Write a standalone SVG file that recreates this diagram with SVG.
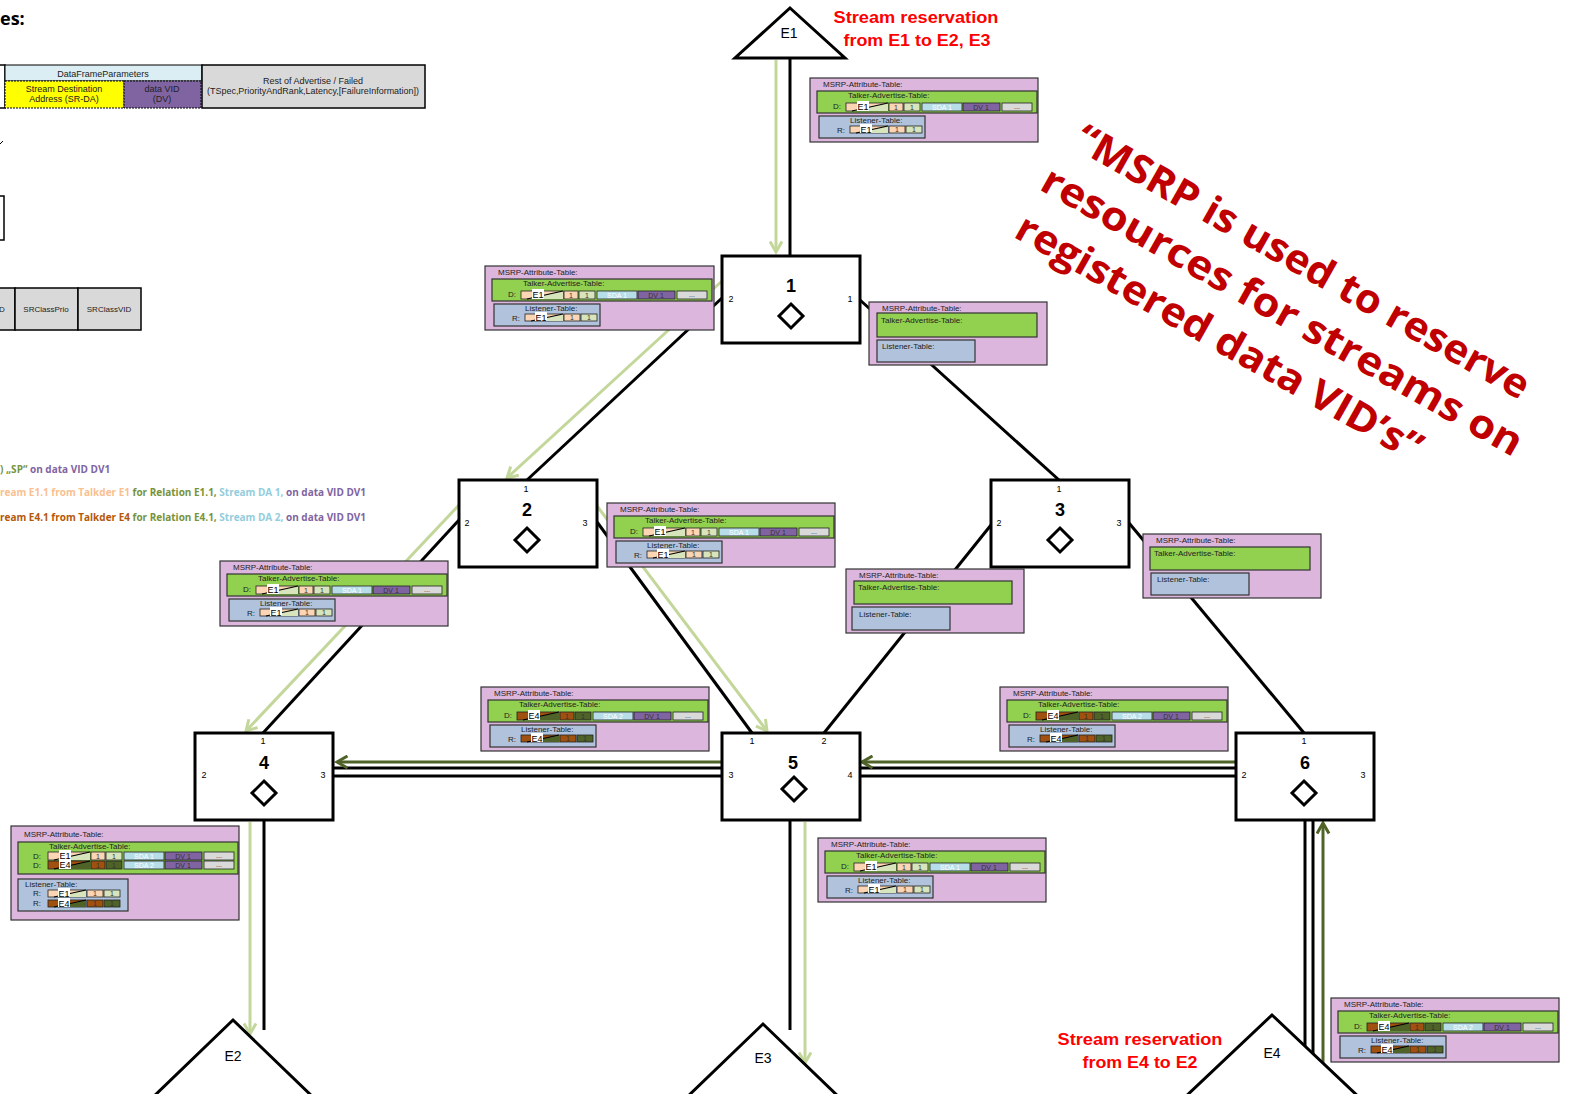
<svg xmlns="http://www.w3.org/2000/svg" xmlns:xlink="http://www.w3.org/1999/xlink" width="1573" height="1094" viewBox="0 0 1573 1094">
  <style>
    .node { fill: #ffffff; stroke: #000000; stroke-width: 3; }
    .dia { fill: #ffffff; stroke: #000000; stroke-width: 3; }
    .nlab { font-family: "Liberation Sans", Arial, sans-serif; font-weight: bold; font-size: 18px; fill: #000; text-anchor: middle; }
    .port { font-family: "Liberation Sans", Arial, sans-serif; font-size: 9px; fill: #000; text-anchor: middle; }
    .end { fill: #ffffff; stroke: #000000; stroke-width: 3; }
    .elab { font-family: "Liberation Sans", Arial, sans-serif; font-size: 14px; fill: #000; text-anchor: middle; }
    .wire { fill: none; stroke: #000000; stroke-width: 3; }
    .pale { fill: none; stroke: #c4d79b; stroke-width: 3; }
    .dark { fill: none; stroke: #4f6228; stroke-width: 3; }
    .tbl { fill: #dcb6dc; stroke: #333333; stroke-width: 1.2; }
    .talk { fill: #92d050; stroke: #333333; stroke-width: 1.2; }
    .lst { fill: #b1c3dc; stroke: #333333; stroke-width: 1.2; }
    .t8 { font-family: "Liberation Sans", Arial, sans-serif; font-size: 8px; fill: #222; }
    .c7 { font-family: "Liberation Sans", Arial, sans-serif; font-size: 7px; fill: #333; text-anchor: middle; }
    .cell { stroke: #222; stroke-width: 0.8; }
    .red { font-family: "Liberation Sans", Arial, sans-serif; font-weight: bold; font-size: 16.5px; fill: #ff0000; text-anchor: middle; }
    .big { font-family: "Open Sans", "Liberation Sans", sans-serif; font-weight: bold; font-size: 40px; fill: #c00000; }
    .leg { font-family: "Open Sans", "Liberation Sans", sans-serif; font-weight: bold; font-size: 10px; }
    .hdr { font-family: "Liberation Sans", Arial, sans-serif; font-size: 9px; fill: #222; text-anchor: middle; }
  </style>
  <defs>
    <marker id="mPale" viewBox="0 0 10 10" refX="8" refY="5" markerWidth="5" markerHeight="5" orient="auto" markerUnits="strokeWidth">
      <path d="M1,1 L8,5 L1,9" fill="none" stroke="#c4d79b" stroke-width="2"/>
    </marker>
    <marker id="mDark" viewBox="0 0 10 10" refX="8" refY="5" markerWidth="5" markerHeight="5" orient="auto" markerUnits="strokeWidth">
      <path d="M1,1 L8,5 L1,9" fill="none" stroke="#4f6228" stroke-width="2"/>
    </marker>
    <!-- talker advertise rows -->
    <symbol id="tE1" overflow="visible">
      <rect class="cell" x="0" y="0" width="42" height="8" fill="#fcd5b4"/>
      <polygon points="6,8 42,0 42,8" fill="#d7e4bc"/>
      <line x1="6" y1="8" x2="42" y2="0" stroke="#000" stroke-width="1.2"/>
      <rect x="11" y="-2" width="12" height="10" fill="#ffffff"/>
      <text x="17" y="7" class="c7" style="font-size:9px;fill:#000">E1</text>
      <rect class="cell" x="43" y="0" width="14" height="8" fill="#fcd5b4"/>
      <text x="50" y="7" class="c7">1</text>
      <rect class="cell" x="58" y="0" width="16" height="8" fill="#d7e4bc"/>
      <text x="66" y="7" class="c7">1</text>
      <rect class="cell" x="76" y="0" width="40" height="8" fill="#b7dee8"/>
      <text x="96" y="7" class="c7" style="fill:#fff">SDA 1</text>
      <rect class="cell" x="117" y="0" width="37" height="8" fill="#8064a2"/>
      <text x="135" y="7" class="c7">DV 1</text>
      <rect class="cell" x="156" y="0" width="30" height="8" fill="#d9d9d9"/>
      <text x="171" y="6" class="c7">...</text>
    </symbol>
    <symbol id="tE4" overflow="visible">
      <rect class="cell" x="0" y="0" width="42" height="8" fill="#a0500f"/>
      <polygon points="6,8 42,0 42,8" fill="#4f6228"/>
      <line x1="6" y1="8" x2="42" y2="0" stroke="#000" stroke-width="1.2"/>
      <rect x="11" y="-2" width="12" height="10" fill="#ffffff"/>
      <text x="17" y="7" class="c7" style="font-size:9px;fill:#000">E4</text>
      <rect class="cell" x="43" y="0" width="14" height="8" fill="#a0500f"/>
      <text x="50" y="7" class="c7">1</text>
      <rect class="cell" x="58" y="0" width="16" height="8" fill="#4f6228"/>
      <text x="66" y="7" class="c7">1</text>
      <rect class="cell" x="76" y="0" width="40" height="8" fill="#b7dee8"/>
      <text x="96" y="7" class="c7" style="fill:#fff">SDA 2</text>
      <rect class="cell" x="117" y="0" width="37" height="8" fill="#8064a2"/>
      <text x="135" y="7" class="c7">DV 1</text>
      <rect class="cell" x="156" y="0" width="30" height="8" fill="#d9d9d9"/>
      <text x="171" y="6" class="c7">...</text>
    </symbol>
    <!-- listener rows -->
    <symbol id="lE1" overflow="visible">
      <rect class="cell" x="0" y="0" width="38" height="7" fill="#fcd5b4"/>
      <polygon points="6,7 38,0 38,7" fill="#d7e4bc"/>
      <line x1="6" y1="7" x2="38" y2="0" stroke="#000" stroke-width="1.2"/>
      <rect x="10" y="-2" width="12" height="9" fill="#ffffff"/>
      <text x="16" y="6.5" class="c7" style="font-size:9px;fill:#000">E1</text>
      <rect class="cell" x="39" y="0" width="16" height="7" fill="#fcd5b4"/>
      <text x="47" y="6" class="c7">1</text>
      <rect class="cell" x="56" y="0" width="16" height="7" fill="#d7e4bc"/>
      <text x="64" y="6" class="c7">1</text>
    </symbol>
    <symbol id="lE4" overflow="visible">
      <rect class="cell" x="0" y="0" width="38" height="7" fill="#a0500f"/>
      <polygon points="6,7 38,0 38,7" fill="#4f6228"/>
      <line x1="6" y1="7" x2="38" y2="0" stroke="#000" stroke-width="1.2"/>
      <rect x="10" y="-2" width="12" height="9" fill="#ffffff"/>
      <text x="16" y="6.5" class="c7" style="font-size:9px;fill:#000">E4</text>
      <rect class="cell" x="39" y="0" width="16" height="7" fill="#a0500f"/>
      <text x="47" y="6" class="c7">1</text>
      <rect class="cell" x="56" y="0" width="16" height="7" fill="#4f6228"/>
      <text x="64" y="6" class="c7">1</text>
    </symbol>
  </defs>

  <rect x="0" y="0" width="1573" height="1094" fill="#ffffff"/>

  <!-- attribute format panel, top left -->
  <g id="format-panel">
    <text x="0" y="25" style="font-family:'Open Sans','Liberation Sans',sans-serif;font-weight:bold;font-size:18px;fill:#000">es:</text>
    <rect x="-10" y="65" width="15" height="43" fill="#fff" stroke="#000" stroke-width="1.5"/>
    <rect x="5" y="65" width="197" height="16" fill="#daeef3" stroke="#000" stroke-width="1"/>
    <text x="103" y="77" class="hdr">DataFrameParameters</text>
    <rect x="5" y="81" width="119" height="27" fill="#ffff00" stroke="#000" stroke-width="1" stroke-dasharray="2,1"/>
    <text x="64" y="92" class="hdr">Stream Destination</text>
    <text x="64" y="102" class="hdr">Address (SR-DA)</text>
    <rect x="124" y="81" width="77" height="27" fill="#8064a2" stroke="#000" stroke-width="1" stroke-dasharray="2,1"/>
    <text x="162" y="92" class="hdr">data VID</text>
    <text x="162" y="102" class="hdr">(DV)</text>
    <rect x="202" y="65" width="223" height="43" fill="#d9d9d9" stroke="#000" stroke-width="1.5"/>
    <text x="313" y="84" class="hdr">Rest of Advertise / Failed</text>
    <text x="313" y="94" class="hdr" textLength="212" lengthAdjust="spacingAndGlyphs">(TSpec,PriorityAndRank,Latency,[FailureInformation])</text>
    <path d="M0,144 L3,141" fill="none" stroke="#000" stroke-width="1"/>
    <rect x="-10" y="196" width="14" height="44" fill="#fff" stroke="#000" stroke-width="1.5"/>
    <rect x="-10" y="288" width="25" height="42" fill="#d9d9d9" stroke="#000" stroke-width="1.5"/>
    <text x="2" y="312" class="hdr" style="font-size:8px">D</text>
    <rect x="15" y="288" width="63" height="42" fill="#d9d9d9" stroke="#000" stroke-width="1.5"/>
    <text x="46" y="312" class="hdr" style="font-size:8px">SRClassPrio</text>
    <rect x="78" y="288" width="63" height="42" fill="#d9d9d9" stroke="#000" stroke-width="1.5"/>
    <text x="109" y="312" class="hdr" style="font-size:8px">SRClassVID</text>
  </g>

  <!-- colour legend -->
  <g id="legend">
    <text x="0" y="473" class="leg"><tspan fill="#77933c">) „SP“</tspan><tspan fill="#8064a2"> on data VID DV1</tspan></text>
    <text x="0" y="496" class="leg" textLength="366" lengthAdjust="spacingAndGlyphs"><tspan fill="#fac090">ream E1.1 from Talkder E1</tspan><tspan fill="#77933c"> for Relation E1.1,</tspan><tspan fill="#93cddd"> Stream DA 1,</tspan><tspan fill="#8064a2"> on data VID DV1</tspan></text>
    <text x="0" y="521" class="leg" textLength="366" lengthAdjust="spacingAndGlyphs"><tspan fill="#b65708">ream E4.1 from Talkder E4</tspan><tspan fill="#77933c"> for Relation E4.1,</tspan><tspan fill="#93cddd"> Stream DA 2,</tspan><tspan fill="#8064a2"> on data VID DV1</tspan></text>
  </g>

  <!-- links between bridges and end stations -->
  <g id="connectors">
    <path class="wire" d="M790,58 V256"/>
    <path class="pale" d="M776,60 V252" marker-end="url(#mPale)"/>
    <path class="wire" d="M722,298 L527,480"/>
    <path class="pale" d="M722,281 L507,478" marker-end="url(#mPale)"/>
    <path class="wire" d="M860,300 L1059,480"/>
    <path class="wire" d="M459,520 L263,733"/>
    <path class="pale" d="M459,505 L246,731" marker-end="url(#mPale)"/>
    <path class="wire" d="M597,522 L752,733"/>
    <path class="pale" d="M597,506 L767,731" marker-end="url(#mPale)"/>
    <path class="wire" d="M991,525 L824,733"/>
    <path class="wire" d="M1129,523 L1304,733"/>
    <path class="wire" d="M333,768 H722"/>
    <path class="wire" d="M333,776 H722"/>
    <path class="dark" d="M722,762 H337" marker-end="url(#mDark)"/>
    <path class="wire" d="M860,768 H1236"/>
    <path class="wire" d="M860,776 H1236"/>
    <path class="dark" d="M1236,762 H862" marker-end="url(#mDark)"/>
    <path class="wire" d="M264,820 V1030"/>
    <path class="pale" d="M250,822 V1034" marker-end="url(#mPale)"/>
    <path class="wire" d="M790,820 V1030"/>
    <path class="pale" d="M805,822 V1063" marker-end="url(#mPale)"/>
    <path class="wire" d="M1305,820 V1050"/>
    <path class="wire" d="M1313,820 V1060"/>
    <path class="dark" d="M1323,1070 V823" marker-end="url(#mDark)"/>
  </g>

  <!-- end stations -->
  <g id="E1"><polygon class="end" points="790,8 845,58 735,58"/><text x="789" y="38" class="elab">E1</text></g>
  <g id="E2"><polygon class="end" points="233,1020 316,1100 150,1100"/><text x="233" y="1061" class="elab">E2</text></g>
  <g id="E3"><polygon class="end" points="763,1024 842,1100 684,1100"/><text x="763" y="1063" class="elab">E3</text></g>
  <g id="E4"><polygon class="end" points="1272,1015 1362,1100 1182,1100"/><text x="1272" y="1058" class="elab">E4</text></g>

  <!-- bridges -->
  <g id="bridge1">
    <rect class="node" x="722" y="256" width="138" height="87"/>
    <text x="791" y="292" class="nlab">1</text>
    <polygon class="dia" points="791,304 803,316 791,328 779,316"/>
    <text x="731" y="302" class="port">2</text>
    <text x="850" y="302" class="port">1</text>
  </g>
  <g id="bridge2">
    <rect class="node" x="459" y="480" width="138" height="87"/>
    <text x="527" y="516" class="nlab">2</text>
    <polygon class="dia" points="527,528 539,540 527,552 515,540"/>
    <text x="526" y="492" class="port">1</text>
    <text x="467" y="526" class="port">2</text>
    <text x="585" y="526" class="port">3</text>
  </g>
  <g id="bridge3">
    <rect class="node" x="991" y="480" width="138" height="87"/>
    <text x="1060" y="516" class="nlab">3</text>
    <polygon class="dia" points="1060,528 1072,540 1060,552 1048,540"/>
    <text x="1059" y="492" class="port">1</text>
    <text x="999" y="526" class="port">2</text>
    <text x="1119" y="526" class="port">3</text>
  </g>
  <g id="bridge4">
    <rect class="node" x="195" y="733" width="138" height="87"/>
    <text x="264" y="769" class="nlab">4</text>
    <polygon class="dia" points="264,781 276,793 264,805 252,793"/>
    <text x="263" y="744" class="port">1</text>
    <text x="204" y="778" class="port">2</text>
    <text x="323" y="778" class="port">3</text>
  </g>
  <g id="bridge5">
    <rect class="node" x="722" y="733" width="138" height="87"/>
    <text x="793" y="769" class="nlab">5</text>
    <polygon class="dia" points="794,777 806,789 794,801 782,789"/>
    <text x="752" y="744" class="port">1</text>
    <text x="824" y="744" class="port">2</text>
    <text x="731" y="778" class="port">3</text>
    <text x="850" y="778" class="port">4</text>
  </g>
  <g id="bridge6">
    <rect class="node" x="1236" y="733" width="138" height="87"/>
    <text x="1305" y="769" class="nlab">6</text>
    <polygon class="dia" points="1304,781 1316,793 1304,805 1292,793"/>
    <text x="1304" y="744" class="port">1</text>
    <text x="1244" y="778" class="port">2</text>
    <text x="1363" y="778" class="port">3</text>
  </g>

  <!-- MSRP attribute tables with registered streams -->
  <g id="table-e1" transform="translate(810,78)">
    <rect class="tbl" width="228" height="64"/>
    <text x="13" y="9" class="t8">MSRP-Attribute-Table:</text>
    <rect class="talk" x="7" y="13" width="220" height="22"/>
    <text x="38" y="20" class="t8">Talker-Advertise-Table:</text>
    <text x="23" y="31" class="t8">D:</text>
    <use href="#tE1" x="36" y="25"/>
    <rect class="lst" x="9" y="38" width="106" height="22"/>
    <text x="40" y="45" class="t8">Listener-Table:</text>
    <text x="27" y="55" class="t8">R:</text>
    <use href="#lE1" x="40" y="48"/>
  </g>
  <g id="table-b1-p2" transform="translate(485,266)">
    <rect class="tbl" width="229" height="64"/>
    <text x="13" y="9" class="t8">MSRP-Attribute-Table:</text>
    <rect class="talk" x="7" y="13" width="220" height="22"/>
    <text x="38" y="20" class="t8">Talker-Advertise-Table:</text>
    <text x="23" y="31" class="t8">D:</text>
    <use href="#tE1" x="36" y="25"/>
    <rect class="lst" x="9" y="38" width="106" height="22"/>
    <text x="40" y="45" class="t8">Listener-Table:</text>
    <text x="27" y="55" class="t8">R:</text>
    <use href="#lE1" x="40" y="48"/>
  </g>
  <g id="table-b2-p3" transform="translate(607,503)">
    <rect class="tbl" width="228" height="64"/>
    <text x="13" y="9" class="t8">MSRP-Attribute-Table:</text>
    <rect class="talk" x="7" y="13" width="220" height="22"/>
    <text x="38" y="20" class="t8">Talker-Advertise-Table:</text>
    <text x="23" y="31" class="t8">D:</text>
    <use href="#tE1" x="36" y="25"/>
    <rect class="lst" x="9" y="38" width="106" height="22"/>
    <text x="40" y="45" class="t8">Listener-Table:</text>
    <text x="27" y="55" class="t8">R:</text>
    <use href="#lE1" x="40" y="48"/>
  </g>
  <g id="table-b2-p2" transform="translate(220,561)">
    <rect class="tbl" width="228" height="65"/>
    <text x="13" y="9" class="t8">MSRP-Attribute-Table:</text>
    <rect class="talk" x="7" y="13" width="220" height="22"/>
    <text x="38" y="20" class="t8">Talker-Advertise-Table:</text>
    <text x="23" y="31" class="t8">D:</text>
    <use href="#tE1" x="36" y="25"/>
    <rect class="lst" x="9" y="38" width="106" height="22"/>
    <text x="40" y="45" class="t8">Listener-Table:</text>
    <text x="27" y="55" class="t8">R:</text>
    <use href="#lE1" x="40" y="48"/>
  </g>
  <g id="table-b5-p3" transform="translate(481,687)">
    <rect class="tbl" width="228" height="64"/>
    <text x="13" y="9" class="t8">MSRP-Attribute-Table:</text>
    <rect class="talk" x="7" y="13" width="220" height="22"/>
    <text x="38" y="20" class="t8">Talker-Advertise-Table:</text>
    <text x="23" y="31" class="t8">D:</text>
    <use href="#tE4" x="36" y="25"/>
    <rect class="lst" x="9" y="38" width="106" height="22"/>
    <text x="40" y="45" class="t8">Listener-Table:</text>
    <text x="27" y="55" class="t8">R:</text>
    <use href="#lE4" x="40" y="48"/>
  </g>
  <g id="table-b6-p2" transform="translate(1000,687)">
    <rect class="tbl" width="228" height="64"/>
    <text x="13" y="9" class="t8">MSRP-Attribute-Table:</text>
    <rect class="talk" x="7" y="13" width="220" height="22"/>
    <text x="38" y="20" class="t8">Talker-Advertise-Table:</text>
    <text x="23" y="31" class="t8">D:</text>
    <use href="#tE4" x="36" y="25"/>
    <rect class="lst" x="9" y="38" width="106" height="22"/>
    <text x="40" y="45" class="t8">Listener-Table:</text>
    <text x="27" y="55" class="t8">R:</text>
    <use href="#lE4" x="40" y="48"/>
  </g>
  <g id="table-b5-p1" transform="translate(818,838)">
    <rect class="tbl" width="228" height="64"/>
    <text x="13" y="9" class="t8">MSRP-Attribute-Table:</text>
    <rect class="talk" x="7" y="13" width="220" height="22"/>
    <text x="38" y="20" class="t8">Talker-Advertise-Table:</text>
    <text x="23" y="31" class="t8">D:</text>
    <use href="#tE1" x="36" y="25"/>
    <rect class="lst" x="9" y="38" width="106" height="22"/>
    <text x="40" y="45" class="t8">Listener-Table:</text>
    <text x="27" y="55" class="t8">R:</text>
    <use href="#lE1" x="40" y="48"/>
  </g>
  <g id="table-e4" transform="translate(1331,998)">
    <rect class="tbl" width="228" height="64"/>
    <text x="13" y="9" class="t8">MSRP-Attribute-Table:</text>
    <rect class="talk" x="7" y="13" width="220" height="22"/>
    <text x="38" y="20" class="t8">Talker-Advertise-Table:</text>
    <text x="23" y="31" class="t8">D:</text>
    <use href="#tE4" x="36" y="25"/>
    <rect class="lst" x="9" y="38" width="106" height="22"/>
    <text x="40" y="45" class="t8">Listener-Table:</text>
    <text x="27" y="55" class="t8">R:</text>
    <use href="#lE4" x="40" y="48"/>
  </g>
  <g id="table-b4" transform="translate(11,826)">
    <rect class="tbl" width="228" height="94"/>
    <text x="13" y="11" class="t8">MSRP-Attribute-Table:</text>
    <rect class="talk" x="7" y="16" width="220" height="32"/>
    <text x="38" y="23" class="t8">Talker-Advertise-Table:</text>
    <text x="22" y="33" class="t8">D:</text>
    <use href="#tE1" x="37" y="26"/>
    <text x="22" y="42" class="t8">D:</text>
    <use href="#tE4" x="37" y="35"/>
    <rect class="lst" x="7" y="53" width="110" height="32"/>
    <text x="14" y="61" class="t8">Listener-Table:</text>
    <text x="22" y="70" class="t8">R:</text>
    <use href="#lE1" x="37" y="64"/>
    <text x="22" y="80" class="t8">R:</text>
    <use href="#lE4" x="37" y="74"/>
  </g>

  <!-- empty MSRP attribute tables -->
  <g id="table-b1-p1" transform="translate(869,302)">
    <rect class="tbl" width="178" height="63"/>
    <text x="13" y="9" class="t8">MSRP-Attribute-Table:</text>
    <rect class="talk" x="8" y="11" width="160" height="24"/>
    <text x="12" y="21" class="t8">Talker-Advertise-Table:</text>
    <rect class="lst" x="8" y="38" width="98" height="22"/>
    <text x="13" y="47" class="t8">Listener-Table:</text>
  </g>
  <g id="table-b3-p2" transform="translate(846,569)">
    <rect class="tbl" width="178" height="64"/>
    <text x="13" y="9" class="t8">MSRP-Attribute-Table:</text>
    <rect class="talk" x="8" y="12" width="158" height="23"/>
    <text x="12" y="21" class="t8">Talker-Advertise-Table:</text>
    <rect class="lst" x="6" y="38" width="98" height="23"/>
    <text x="13" y="48" class="t8">Listener-Table:</text>
  </g>
  <g id="table-b3-p3" transform="translate(1143,534)">
    <rect class="tbl" width="178" height="64"/>
    <text x="13" y="9" class="t8">MSRP-Attribute-Table:</text>
    <rect class="talk" x="7" y="13" width="160" height="23"/>
    <text x="11" y="22" class="t8">Talker-Advertise-Table:</text>
    <rect class="lst" x="8" y="39" width="98" height="22"/>
    <text x="14" y="48" class="t8">Listener-Table:</text>
  </g>

  <!-- captions -->
  <text x="916" y="23" class="red" textLength="165" lengthAdjust="spacingAndGlyphs">Stream reservation</text>
  <text x="917" y="46" class="red" textLength="147" lengthAdjust="spacingAndGlyphs">from E1 to E2, E3</text>
  <text x="1140" y="1045" class="red" textLength="165" lengthAdjust="spacingAndGlyphs">Stream reservation</text>
  <text x="1140" y="1068" class="red" textLength="115" lengthAdjust="spacingAndGlyphs">from E4 to E2</text>

  <g transform="translate(1072,147) rotate(29.5)">
    <text x="0" y="0" class="big" textLength="515" lengthAdjust="spacingAndGlyphs">“MSRP is used to reserve</text>
    <text x="-9" y="53" class="big" textLength="546" lengthAdjust="spacingAndGlyphs">resources for streams on</text>
    <text x="-8" y="107" class="big" textLength="460" lengthAdjust="spacingAndGlyphs">registered data VID’s”</text>
  </g>
</svg>
